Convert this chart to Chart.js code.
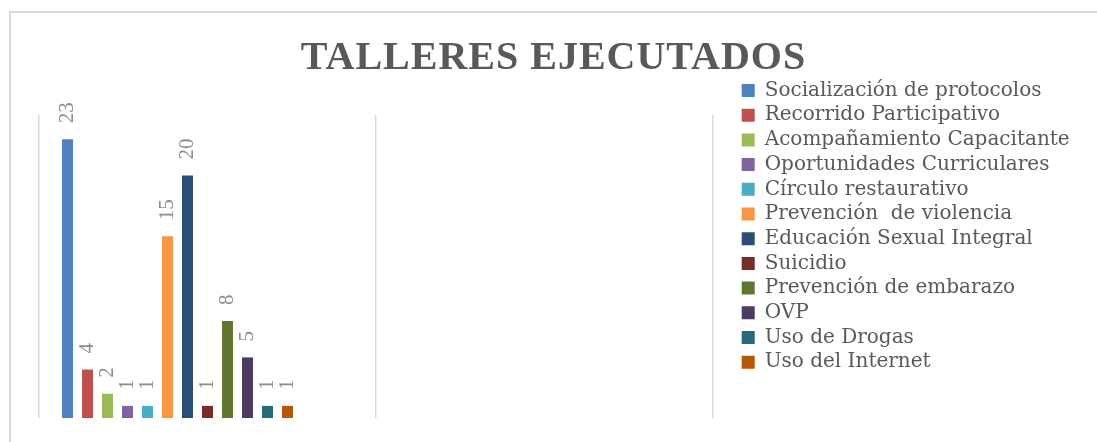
<!DOCTYPE html>
<html lang="es">
<head>
<meta charset="utf-8">
<title>Talleres ejecutados</title>
<script src="https://cdn.jsdelivr.net/npm/chart.js@4.4.1/dist/chart.umd.min.js"></script>
<style>
html, body { margin: 0; padding: 0; background: #fff; }
#wrap { position: relative; width: 1097px; height: 442px; }
</style>
</head>
<body>
<div id="wrap"><canvas id="talleresChart"></canvas></div>
<script>
// datos
const categorias = ['', ''];
const talleres = [
  'Socialización de protocolos',
  'Recorrido Participativo',
  'Acompañamiento Capacitante',
  'Oportunidades Curriculares',
  'Círculo restaurativo',
  'Prevención  de violencia',
  'Educación Sexual Integral',
  'Suicidio',
  'Prevención de embarazo',
  'OVP',
  'Uso de Drogas',
  'Uso del Internet'
];
const cantidades = [23, 4, 2, 1, 1, 15, 20, 1, 8, 5, 1, 1];
const yMax = 25;
const seriesVacias = 3; // series en blanco de la hoja original (ocupan hueco)

const colores = [
  '#4F81BD', '#C0504D', '#9BBB59', '#8064A2', '#4BACC6', '#F79646',
  '#2C4D75', '#772C2A', '#5F7530', '#4D3B62', '#276A7C', '#B65708'
];

const serif = '"Liberation Serif", "DejaVu Serif", serif';
const serifLeyenda = '"DejaVu Serif", serif';
const tamLeyenda = 20;
const sepLeyenda = 4.7;
const cajaLeyenda = 13;
const huecoLeyenda = 24; // separacion entre el area del grafico y la leyenda

// ancho de la leyenda, para dejar el area del grafico en su sitio
const medidor = document.createElement('canvas').getContext('2d');
medidor.font = tamLeyenda + 'px ' + serifLeyenda;
const textoMax = Math.max(...talleres.map(t => medidor.measureText(t).width));
const anchoLeyenda = sepLeyenda + cajaLeyenda + tamLeyenda / 2 + textoMax + 10;
const margenDerecho = Math.max(0, 1097 - 713 - huecoLeyenda - anchoLeyenda);

const datasets = talleres.map((t, i) => ({
  label: t,
  data: [cantidades[i]],
  backgroundColor: colores[i],
  borderWidth: 0,
  categoryPercentage: 0.89,
  barPercentage: 0.55
}));
for (let i = 0; i < seriesVacias; i++) {
  datasets.push({ label: '', data: [], categoryPercentage: 0.89, barPercentage: 0.55 });
}

// marco gris del grafico
const marco = {
  id: 'marco',
  beforeDraw(chart) {
    const c = chart.ctx;
    c.save();
    c.strokeStyle = '#d9d9d9';
    c.lineWidth = 2;
    c.strokeRect(10, 12, chart.width + 20, chart.height + 20);
    c.restore();
  }
};

// etiquetas de valor giradas
const etiquetas = {
  id: 'etiquetas',
  afterDatasetsDraw(chart) {
    const c = chart.ctx;
    c.save();
    c.font = '21px ' + serif;
    c.fillStyle = '#8c8c8c';
    c.textAlign = 'left';
    c.textBaseline = 'middle';
    chart.data.datasets.forEach((ds, i) => {
      chart.getDatasetMeta(i).data.forEach((bar, j) => {
        const v = ds.data[j];
        if (v == null) return;
        c.save();
        c.translate(bar.x, bar.y - 16);
        c.rotate(-Math.PI / 2);
        c.fillText(String(v), 0, 0);
        c.restore();
      });
    });
    c.restore();
  }
};

const chart = new Chart(document.getElementById('talleresChart'), {
  type: 'bar',
  data: {
    labels: categorias,
    datasets: datasets
  },
  options: {
    responsive: true,
    maintainAspectRatio: false,
    animation: false,
    events: [],
    layout: {
      padding: { left: 39, right: margenDerecho, top: 0, bottom: 24 }
    },
    scales: {
      x: {
        ticks: { display: false },
        grid: { color: '#d9d9d9', lineWidth: 1.5, drawTicks: false, offset: true },
        border: { display: false }
      },
      y: {
        position: 'right',
        min: 0,
        max: yMax,
        ticks: { display: false },
        grid: { display: false, drawTicks: false },
        border: { display: false },
        afterFit(s) { s.width = huecoLeyenda; }
      }
    },
    plugins: {
      title: {
        display: true,
        text: 'TALLERES EJECUTADOS',
        color: '#595959',
        font: { family: serif, size: 40, weight: 'bold', lineHeight: 1 },
        padding: { top: 39, bottom: 36 }
      },
      legend: {
        position: 'right',
        align: 'start',
        maxWidth: 400,
        title: {
          display: true,
          text: '',
          font: { size: 10, lineHeight: 1 },
          padding: { top: 65.8, bottom: 0 }
        },
        labels: {
          boxWidth: cajaLeyenda,
          boxHeight: cajaLeyenda,
          padding: sepLeyenda,
          color: '#595959',
          font: { family: serifLeyenda, size: tamLeyenda },
          filter: item => item.text !== ''
        }
      },
      tooltip: { enabled: false }
    }
  },
  plugins: [marco, etiquetas]
});

// titulo con espaciado entre letras y centrado sobre todo el lienzo
const tb = chart.titleBlock;
const dibujarTitulo = tb.draw.bind(tb);
tb.draw = function () {
  const c = chart.ctx;
  c.save();
  c.letterSpacing = '1px';
  c.translate(chart.width / 2 + 5 - (tb.left + tb.right) / 2, 0);
  dibujarTitulo();
  c.restore();
};
chart.draw();
</script>
</body>
</html>
